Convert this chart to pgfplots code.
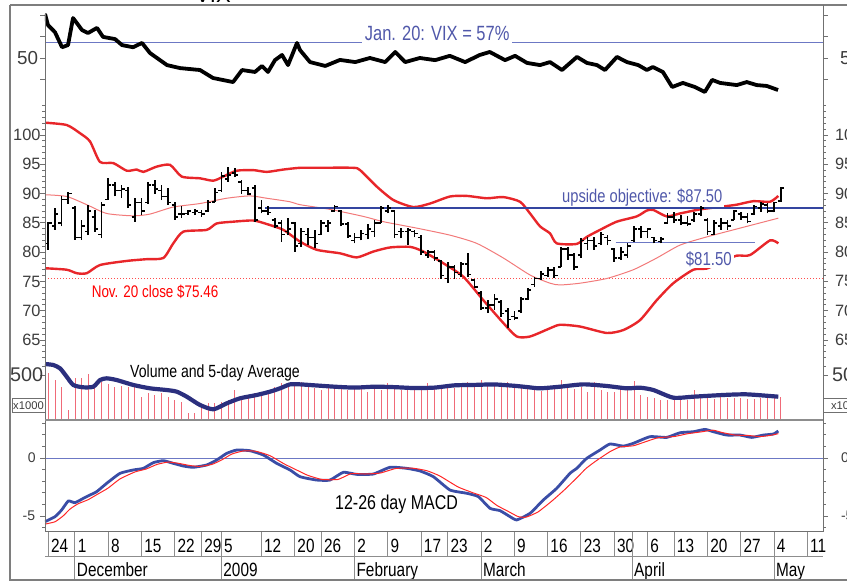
\documentclass[border=0pt]{standalone}
\usepackage{fontspec}
\setmainfont{Liberation Sans}
\newfontfamily\narrow{Liberation Sans}[FakeStretch=0.8]
\usepackage{pgfplots}
\pgfplotsset{compat=1.18}
\usepackage{pgfplotstable}

\definecolor{bandred}{HTML}{E8262A}
\definecolor{midred}{HTML}{F27A7A}
\definecolor{volred}{HTML}{F06A78}
\definecolor{navy}{HTML}{2B2F7E}
\definecolor{macdblue}{HTML}{3A4DA6}
\definecolor{objblue}{HTML}{3445A0}
\definecolor{lineblue}{HTML}{6C78C4}
\definecolor{textblue}{HTML}{5058AA}
\definecolor{axgray}{HTML}{707070}
\definecolor{labgray}{HTML}{3C3C3C}

\pgfdeclareplotmark{otick}{\pgfpathmoveto{\pgfqpoint{-\pgfplotmarksize}{0pt}}\pgfpathlineto{\pgfqpoint{0pt}{0pt}}\pgfusepathqstroke}
\pgfdeclareplotmark{ctick}{\pgfpathmoveto{\pgfqpoint{0pt}{0pt}}\pgfpathlineto{\pgfqpoint{\pgfplotmarksize}{0pt}}\pgfusepathqstroke}

\pgfplotstableread{
x o h l c
-1 81.5 85.2 80.4 85.0
0 84.5 87.5 83.8 86.5
1 85.0 89.5 84.4 89.0
2 89.0 90.3 88.3 90.0
3 87.5 87.8 82.1 82.5
4 82.5 85.5 82.1 84.5
5 83.5 88.1 82.9 87.0
6 86.0 87.2 83.5 84.0
7 83.0 88.6 82.4 88.0
8 89.0 92.6 88.9 91.5
9 91.5 92.0 89.5 90.5
10 90.5 91.5 89.2 90.8
11 90.5 91.2 87.5 88.0
12 86.0 89.2 85.2 88.5
13 88.5 89.2 86.3 87.0
14 88.5 92.0 88.3 91.5
15 91.5 92.3 90.0 90.8
16 90.5 91.5 88.9 89.5
17 89.5 90.9 88.1 88.5
18 88.0 88.6 85.5 86.0
19 86.5 87.8 85.8 86.5
20 86.6 87.2 86.4 87.0
21 86.8 87.3 86.3 87.0
22 86.8 87.2 86.0 86.5
23 87.0 88.9 86.9 88.5
24 88.6 90.9 88.6 90.2
25 90.5 93.7 90.3 93.0
26 92.5 94.6 92.0 93.2
27 93.5 94.4 92.8 93.2
28 92.0 92.3 90.0 90.5
29 90.5 91.2 89.7 89.9
30 91.0 91.5 85.2 85.5
31 87.5 88.9 86.6 87.0
32 87.0 87.8 86.4 86.8
33 85.5 85.8 84.1 84.5
34 85.0 85.5 81.8 83.0
35 83.5 85.8 82.9 84.0
36 85.0 85.2 80.1 81.0
37 81.5 84.1 80.9 83.5
38 83.0 84.1 81.2 82.5
39 82.5 83.8 80.7 81.5
40 83.0 85.5 82.9 85.0
41 84.5 85.5 83.5 85.0
42 87.0 88.1 86.9 87.8
43 87.0 87.2 84.4 84.8
44 84.8 85.2 82.4 82.8
45 82.0 83.2 81.5 82.5
46 82.5 83.8 82.0 83.2
47 83.0 84.8 82.2 84.0
48 83.5 85.5 82.6 85.0
49 85.0 87.8 84.9 87.5
50 87.0 88.1 86.6 87.5
51 87.0 87.2 82.4 83.0
52 83.5 84.1 82.4 83.5
53 83.5 84.1 81.2 83.8
54 83.5 83.8 82.5 83.2
55 82.5 82.9 79.5 80.0
56 79.5 80.4 79.0 80.0
57 80.0 80.4 78.5 79.0
58 78.5 78.7 75.5 76.0
59 75.5 78.4 74.7 77.5
60 77.5 77.8 75.5 76.5
61 76.2 78.4 75.8 78.0
62 78.0 79.8 75.8 76.2
63 75.2 75.5 73.8 74.0
64 73.0 73.3 70.1 70.5
65 70.5 71.8 69.6 71.0
66 71.0 72.8 70.2 72.0
67 71.5 71.8 69.0 69.5
68 70.0 70.4 67.0 68.5
69 69.0 69.9 68.4 68.8
70 70.0 72.4 69.6 72.0
71 72.0 73.8 71.8 73.5
72 74.5 75.8 74.1 75.5
73 75.5 76.8 75.3 76.3
74 76.0 77.5 75.8 77.0
75 77.0 77.5 75.6 76.0
76 77.5 80.9 77.5 80.5
77 80.5 80.9 78.7 79.5
78 79.5 79.8 77.0 77.5
79 79.5 82.4 79.0 82.0
80 81.5 82.6 80.4 82.0
81 82.0 82.6 80.4 81.0
82 81.5 83.5 81.2 83.0
83 82.5 82.9 81.2 82.0
84 80.5 80.7 78.4 79.0
85 79.0 80.9 78.7 80.0
86 79.5 81.5 79.0 81.0
87 82.0 84.4 81.8 84.0
88 84.0 84.4 82.4 83.5
89 83.5 84.1 82.4 84.0
90 82.5 82.6 81.5 82.0
91 81.8 82.6 81.5 82.2
92 85.0 86.6 84.9 86.0
93 86.0 86.9 84.9 85.5
94 85.5 86.3 84.6 85.0
95 85.0 86.2 84.5 84.8
96 85.5 86.9 85.2 86.5
97 86.5 87.8 86.1 87.5
98 85.5 85.8 82.9 83.5
99 83.0 85.5 82.9 85.0
100 84.5 85.8 83.8 85.0
101 85.0 85.5 83.8 84.5
102 85.5 87.2 85.5 87.0
103 86.5 86.9 85.5 86.0
104 86.0 86.6 84.9 85.2
105 86.5 88.1 86.3 87.8
106 87.5 88.6 86.9 88.2
107 88.0 88.4 86.6 87.0
108 87.0 88.6 86.8 88.5
109 88.7 91.2 88.6 91.0
}\ohlc

\pgfplotstableread{
x v
-1 519
0 444
1 370
2 111
3 467
4 467
5 511
6 370
7 426
8 400
9 363
10 380
11 370
12 370
13 259
14 296
15 278
16 296
17 259
18 222
19 204
20 74
21 74
22 148
23 185
24 185
25 204
26 222
27 333
28 259
29 278
30 296
31 296
32 333
33 370
34 407
35 407
36 389
37 420
38 370
39 352
40 333
41 370
42 352
43 389
44 333
45 352
46 389
47 315
48 352
49 333
50 407
51 352
52 333
53 370
54 333
55 352
56 407
57 352
58 389
59 370
60 352
61 389
62 426
63 370
64 444
65 389
66 407
67 370
68 426
69 389
70 370
71 352
72 333
73 326
74 333
75 341
76 444
77 352
78 341
79 370
80 315
81 426
82 333
83 315
84 315
85 352
86 341
87 433
88 278
89 259
90 241
91 222
92 222
93 230
94 222
95 222
96 333
97 241
98 241
99 230
100 259
101 241
102 241
103 241
104 230
105 230
106 241
107 241
108 259
109 259
}\volume

\pgfplotsset{
  panel/.style={anchor=north west, scale only axis, width=389pt,
    xmin=-1.5, xmax=115.35, axis line style={draw=none}, xtick=\empty,
    ytick pos=both, tick align=outside, major tick length=2.5pt,
    minor tick length=1.4pt, tick style={axgray, line width=0.45pt},
    yticklabels={}, yticklabel style={opacity=0}},
  rlab/.style={anchor=north west, scale only axis, width=389pt,
    xmin=-1.5, xmax=115.35, axis line style={draw=none}, xtick=\empty,
    ytick pos=both, tick align=outside, major tick length=2.5pt,
    yticklabel pos=right, tick style={draw=none},
    yticklabel style={text=labgray}},
}

\begin{document}
\begin{tikzpicture}
\path[use as bounding box, clip] (0pt,0pt) rectangle (423.5pt,-290.5pt);

% ---------------- VIX panel
\begin{axis}[panel, at={(22.5pt,-6.5pt)}, height=46pt,
  ymin=28.14, ymax=70.93, ytick={40,50,60,70}]
\addplot[lineblue, line width=0.5pt] coordinates {(-1.5,57) (115.35,57)};
\node[anchor=base, fill=white, inner sep=1.5pt, text=textblue,
  font=\narrow\fontsize{10.3}{11}\selectfont] at (axis cs:57.4,58.1) {Jan. 20: VIX = 57\%};
\addplot[black, line width=1.9pt, line join=round] coordinates {
(-1.5,70.5) (-1.05,65.3) (0,62) (1.06,55) (1.96,56) (2.71,68.6) (4.06,63)
(4.96,61.6) (6.31,64) (7.22,59.8) (9.02,58.8) (10.07,56) (11.72,55) (13.07,57)
(14.27,52.3) (16.82,46.7) (18.78,45.3) (21.78,44.4) (23.73,40.7) (26.74,38.8)
(28.1,44.4) (30.04,43.5) (31.09,46.3) (31.99,43.5) (33.04,49) (34.1,51.4)
(35.0,46.7) (36.35,57) (36.8,53.7) (38.3,48.1) (40.6,46.3) (42.8,49.1)
(45.1,48.1) (47.3,50) (49.6,48.1) (51.1,52.8) (52.6,48.1) (54.8,50) (57.1,49)
(59.3,51) (61.6,48.1) (63.8,51.4) (65.3,52.8) (67.6,49) (69.1,51) (70.9,47.7)
(72.85,46.7) (74.35,48.1) (76.15,44.4) (78.4,50.5) (79.9,47.7) (81.4,46.7)
(82.6,44.4) (84.4,50.5) (85.9,48.1) (87.6,46.7) (88.9,44.4) (89.8,45.8)
(91.3,43.5) (92.7,36.5) (94.3,38.4) (96.1,36.5) (97.6,34.2) (98.7,39.8)
(99.9,38.4) (102.4,37.4) (103.9,38.8) (105.4,37.4) (106.9,37) (108.6,35.1)};
\end{axis}
\begin{axis}[rlab, at={(22.5pt,-6.5pt)}, height=46pt,
  ymin=28.14, ymax=70.93, ytick={40,50,60,70}, yticklabels={,50,,},
  yticklabel shift=2.5pt,
  yticklabel style={font=\fontsize{9.4}{10}\selectfont}]
\end{axis}

% ---------------- Price panel
\begin{axis}[panel, at={(22.5pt,-52.5pt)}, height=126.5pt,
  ymin=61.93, ymax=105.12, ytick={65,70,...,100}, minor ytick={62,...,105}]
\addplot[red!70, densely dotted, line width=0.5pt] coordinates {(-1.5,75.46) (115.35,75.46)};
\addplot[midred, line width=0.5pt, smooth, tension=0.4] coordinates {
(-1.5,89.8) (1.76,89.5) (4.77,88.1) (7.77,86.6) (11.77,86.2) (14.27,86.5)
(17.77,87.7) (21.78,88.3) (25.79,89.2) (29.29,89.6) (31.8,89.2) (35.3,88.6)
(36.8,88.1) (41.31,87.3) (46.31,86.1) (49.32,85.2) (54.33,84.1) (59.33,82.9)
(63.34,81.5) (67.34,79.0) (71.35,76.1) (74.35,74.7) (75.85,74.4) (78.86,74.7)
(82.87,75.5) (86.87,77.0) (90.38,79.0) (93.87,81.2) (97.89,82.6) (102.89,84.1)
(108.64,85.8)};
\addplot[bandred, line width=1.2pt, smooth, tension=0.4] coordinates {
(-1.5,102.1) (1.76,101.7) (3.76,100.3) (5.26,98.9) (6.76,95.4) (8.76,95.2)
(10.78,93.9) (12.28,94.1) (13.27,93.7) (15.28,94.6) (17.28,94.9) (19.04,92.9)
(21.78,92.6) (23.78,92.2) (25.28,92.9) (27.3,93.9) (29.79,94.0) (31.8,93.7)
(34.3,94.1) (36.8,94.4) (39.31,94.4) (44.76,94.4) (45.82,94.0) (48.32,91.2)
(50.82,88.9) (53.82,87.7) (56.33,88.3) (59.33,89.5) (61.84,89.6) (64.85,89.2)
(67.34,89.4) (69.85,88.6) (71.35,86.6) (72.85,84.4) (74.35,83.2) (75.36,81.5)
(78.36,81.4) (79.86,82.6) (81.86,83.8) (84.37,85.2) (87.37,86.1) (88.88,87.1)
(89.87,87.2) (91.88,86.1) (93.87,86.6) (96.88,87.3) (100.38,87.8) (102.39,88.1)
(104.89,88.7) (107.39,88.6) (108.64,89.6)};
\addplot[bandred, line width=1.2pt, smooth, tension=0.4] coordinates {
(-1.5,77.25) (1.76,77.0) (3.27,76.4) (4.77,76.4) (6.76,77.8) (10.78,78.5)
(13.78,78.8) (16.27,79.0) (17.77,81.5) (19.28,83.5) (22.79,83.8) (24.29,84.9)
(26.79,85.2) (29.79,85.4) (31.8,84.8) (34.3,83.8) (36.8,81.8) (39.31,80.4)
(42.81,79.8) (45.32,79.1) (47.81,80.1) (50.32,80.8) (53.33,80.9) (55.32,80.1)
(58.33,78.1) (61.33,75.8) (64.33,71.8) (67.34,67.9) (69.35,65.6) (71.35,65.6)
(74.35,67.0) (75.85,67.6) (78.86,67.3) (82.87,66.2) (85.36,66.7) (87.87,68.4)
(90.38,71.8) (92.87,74.7) (95.88,77.0) (97.89,77.2) (100,78.3) (102.39,79.4)
(104.38,79.5) (107.39,82.0) (108.64,81.5)};
\node[anchor=base, text=red, font=\narrow\fontsize{8.4}{9}\selectfont]
  at (axis cs:15.03,72.2) {Nov. 20 close \$75.46};
\node[anchor=base, fill=white, inner sep=1pt, text=textblue,
  font=\narrow\fontsize{9.2}{10}\selectfont] at (axis cs:88.2,88.4) {upside objective: \$87.50};
\node[anchor=base, fill=white, inner sep=1pt, text=textblue,
  font=\narrow\fontsize{9.4}{10}\selectfont] at (axis cs:98.2,77.8) {\$81.50};
\addplot[objblue, line width=1.1pt] coordinates {(31.6,87.5) (115.35,87.5)};
\addplot[lineblue, line width=0.7pt] coordinates {(84.2,81.65) (105.2,81.65)};
\addplot[draw=none, mark=none, error bars/.cd, y dir=plus, y explicit,
  error mark=none, error bar style={draw=black, solid, line width=0.85pt}]
  table[x=x, y=l, y error expr=\thisrow{h}-\thisrow{l}] {\ohlc};
\addplot[only marks, mark=otick, mark size=1.6pt, mark options={draw=black, line width=0.8pt}]
  table[x=x, y=o] {\ohlc};
\addplot[only marks, mark=ctick, mark size=1.6pt, mark options={draw=black, line width=0.8pt}]
  table[x=x, y=c] {\ohlc};
\end{axis}
\begin{axis}[rlab, at={(22.5pt,-52.5pt)}, height=126.5pt,
  ymin=61.93, ymax=105.12, ytick={65,70,...,100},
  yticklabels={65,70,75,80,85,90,95,100},
  yticklabel style={font=\fontsize{8.2}{9}\selectfont}]
\end{axis}

% ---------------- Volume panel
\begin{axis}[panel, at={(22.5pt,-179pt)}, height=31pt,
  ymin=0, ymax=689, ytick={500}, minor ytick={600}]
\addplot[ycomb, volred, line width=0.45pt] table[x=x, y=v] {\volume};
\addplot[navy, line width=2.1pt, smooth, tension=0.4] coordinates {
(-1.5,622) (-0.25,611) (0.76,574) (1.76,481) (2.75,389) (4.26,363) (5.76,370)
(6.76,444) (7.77,463) (9.27,444) (11.77,389) (14.27,352) (16.78,333)
(18.28,315) (19.79,259) (21.78,167) (23.78,119) (25.79,185) (27.79,241)
(30.3,278) (32.3,315) (33.8,352) (35.3,396) (36.8,396) (39,385) (42,370)
(45,360) (48,370) (51,365) (54,355) (57,360) (60,385) (63,390) (66,395)
(69,380) (71,365) (72.85,352) (75.85,370) (79.36,396) (82.87,378) (85.87,352)
(87.87,359) (89.87,333) (92.87,248) (95.88,259) (100.38,278) (103.89,285)
(108.64,259)};
\node[anchor=base, font=\narrow\fontsize{8.8}{10}\selectfont]
  at (axis cs:24.03,467) {Volume and 5-day Average};
\end{axis}
\begin{axis}[rlab, at={(22.5pt,-179pt)}, height=31pt,
  ymin=0, ymax=689, ytick={500}, yticklabels={500},
  yticklabel shift=-1.5pt,
  yticklabel style={font=\fontsize{9.9}{10}\selectfont}]
\end{axis}

% ---------------- MACD panel
\begin{axis}[panel, at={(22.5pt,-210pt)}, height=56pt,
  ymin=-6.38, ymax=3.28, ytick={-5,0}, minor ytick={-6,-4,-3,-2,-1,1,2,3}]
\addplot[lineblue, line width=0.5pt] coordinates {(-1.5,0) (115.35,0)};
\addplot[macdblue, line width=1.4pt, smooth, tension=0.3] coordinates {
(-1.5,-5.49) (0,-5.06) (1.0,-4.48) (2.0,-3.71) (3.0,-3.85) (4.26,-3.48)
(5.26,-3.19) (6.27,-2.9) (7.77,-2.18) (9.77,-1.32) (11.77,-1.03) (13.27,-0.89)
(14.77,-0.4) (16.27,-0.23) (17.77,-0.46) (19.28,-0.69) (20.78,-0.8) (22.79,-0.6)
(24.29,-0.17) (25.79,0.4) (27.3,0.69) (29.29,0.63) (31.29,0.26) (33.3,-0.46)
(35.3,-1.03) (36.8,-1.61) (39.31,-1.9) (41.31,-1.9) (43.31,-1.23) (45.32,-1.41)
(47.81,-1.38) (50.32,-0.8) (52.83,-0.89) (54.83,-1.12) (56.83,-1.61) (59.33,-2.76)
(61.84,-3.04) (63.58,-3.33) (65.34,-4.34) (66.84,-4.54) (68.35,-5.06) (69.35,-5.34)
(71.35,-4.77) (73.35,-3.62) (75.36,-2.61) (77.35,-1.32) (78.36,-0.89) (79.86,-0.03)
(81.86,0.69) (83.36,1.21) (85.36,1.03) (86.87,1.27) (89.37,1.84) (91.88,1.78)
(93.87,2.18) (95.88,2.27) (97.63,2.47) (98.88,2.27) (100.89,1.98) (102.89,1.98)
(104.65,1.78) (106.39,1.98) (107.89,2.07) (108.64,2.33)};
\addplot[red!85!white, line width=0.5pt, smooth, tension=0.3] coordinates {
(-1.5,-5.7) (0,-5.5) (1.21,-5.0) (2.26,-4.4) (3.46,-3.95) (4.96,-3.6) (6.46,-3.1)
(7.96,-2.6) (9.77,-1.8) (12.02,-1.2) (13.68,-0.95) (15.33,-0.55) (16.98,-0.35)
(18.48,-0.45) (20.29,-0.65) (21.78,-0.72) (23.58,-0.55) (25.09,-0.15) (26.59,0.35)
(28.4,0.62) (30.2,0.58) (32.3,0.2) (34.4,-0.5) (36.35,-1.05) (38.0,-1.5)
(40.1,-1.85) (42.5,-1.85) (44.47,-1.35) (46.56,-1.38) (48.82,-1.3) (51.22,-0.9)
(53.78,-0.88) (55.88,-1.1) (57.8,-1.55) (60.55,-2.5) (62.79,-3.0) (64.74,-3.4)
(66.4,-4.1) (67.9,-4.55) (69.55,-5.05) (70.75,-5.1) (72.55,-4.65) (74.65,-3.7)
(76.6,-2.7) (78.56,-1.6) (79.76,-0.9) (81.26,-0.25) (83.36,0.55) (84.86,0.95)
(86.81,1.05) (88.17,1.3) (90.57,1.75) (92.97,1.85) (95.07,2.1) (97.0,2.25)
(98.83,2.4) (100.2,2.2) (102.14,1.98) (104.0,1.95) (105.9,1.85) (107.4,1.95)
(108.64,2.1)};
\node[anchor=base, font=\narrow\fontsize{10}{11}\selectfont]
  at (axis cs:51.3,-4.48) {12-26 day MACD};
\end{axis}
\begin{axis}[rlab, at={(22.5pt,-210pt)}, height=56pt,
  ymin=-6.38, ymax=3.28, ytick={-5,0}, yticklabels={-5,0},
  yticklabel shift=3pt,
  yticklabel style={font=\fontsize{7}{8}\selectfont}]
\end{axis}

% ---------------- date rows
\begin{axis}[anchor=north west, at={(22.5pt,-266pt)}, scale only axis,
  width=389pt, height=12.5pt, xmin=-1.5, xmax=115.35, ymin=0, ymax=1,
  axis line style={draw=none}, ytick=\empty,
  xtick={-1,3,8,13,18,22,25,31,36,40,45,50,55,59,64,69,74,79,84,89,93,98,103,108,113},
  xticklabels={24,1,8,15,22,29,5,12,20,26,2,9,17,23,2,9,16,23,30,6,13,20,27,4,11},
  xtick pos=left, tick align=inside, major tick length=12.5pt,
  tick style={axgray!80, line width=0.5pt},
  xticklabel style={anchor=base west, inner sep=0pt, xshift=1.2pt, yshift=2.2pt,
    font=\narrow\fontsize{9.6}{10}\selectfont}]
\end{axis}
\begin{axis}[anchor=north west, at={(22.5pt,-266pt)}, scale only axis,
  width=389pt, height=24pt, xmin=-1.5, xmax=115.35, ymin=0, ymax=1,
  axis line style={draw=none}, ytick=\empty,
  xtick={3,25,45,64,86.7,108},
  xticklabels={December,2009,February,March,April,May},
  xtick pos=left, tick align=inside, major tick length=24pt,
  tick style={axgray!80, line width=0.5pt},
  xticklabel style={anchor=base west, inner sep=0pt, xshift=0.8pt, yshift=1.7pt,
    font=\narrow\fontsize{9.6}{10}\selectfont}]
\end{axis}

% ---------------- frame lines and left scale labels
\begin{scope}[x=0.5pt, y=-0.5pt]
\node[anchor=base, font=\fontsize{11}{12}\selectfont] at (213,2.5) {VIX};
\draw[axgray!90, line width=0.6pt] (10,5) -- (847,5);
\draw[axgray!90, line width=0.6pt] (10,5) -- (10,580) -- (847,580);
\draw[axgray, line width=0.5pt] (45,13) -- (45,532);
\draw[axgray, line width=0.5pt] (823,5) -- (823,532);
\draw[axgray!80, line width=0.6pt] (45,420) -- (823,420);
\draw[axgray, line width=0.5pt] (45,532) -- (823,532);
\draw[axgray!80, line width=0.5pt] (45,557) -- (823,557);
\draw[axgray, line width=0.5pt] (12,399) rectangle (45,413);
\node[font=\fontsize{5.6}{6}\selectfont, text=labgray] at (28.5,406) {x1000};
\draw[axgray, line width=0.5pt] (823,399) rectangle (870,413);
\node[anchor=west, font=\fontsize{5.6}{6}\selectfont, text=labgray] at (824,406) {x1000};
\begin{scope}[every node/.style={anchor=east, inner sep=0pt, text=labgray}]
\node[font=\fontsize{9.4}{10}\selectfont] at (38.5,58) {50};
\node[font=\fontsize{8.2}{9}\selectfont] at (41,135) {100};
\node[font=\fontsize{8.2}{9}\selectfont] at (41,164.3) {95};
\node[font=\fontsize{8.2}{9}\selectfont] at (41,193.6) {90};
\node[font=\fontsize{8.2}{9}\selectfont] at (41,222.9) {85};
\node[font=\fontsize{8.2}{9}\selectfont] at (41,252.2) {80};
\node[font=\fontsize{8.2}{9}\selectfont] at (41,281.5) {75};
\node[font=\fontsize{8.2}{9}\selectfont] at (41,310.8) {70};
\node[font=\fontsize{8.2}{9}\selectfont] at (41,340.1) {65};
\node[font=\fontsize{9.9}{10}\selectfont] at (43.5,375) {500};
\node[font=\fontsize{7}{8}\selectfont] at (36,458) {0};
\node[font=\fontsize{7}{8}\selectfont] at (35.5,516) {-5};
\end{scope}
\end{scope}
\end{tikzpicture}
\end{document}
